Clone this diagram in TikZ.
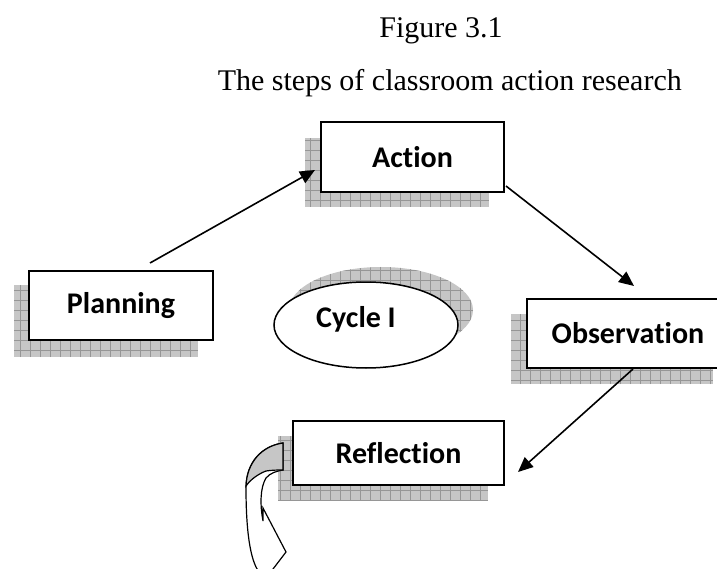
\documentclass[tikz,border=0pt]{standalone}
\usepackage{fontspec}
\setmainfont{Liberation Serif}
\newfontfamily\lblfont[Ligatures=NoCommon]{Carlito}
\usetikzlibrary{arrows.meta,calc,shapes.geometric}
\definecolor{shadefill}{RGB}{198,198,198}
\definecolor{shadegrid}{RGB}{150,150,150}
\newcommand\myshade[4]{%
  \fill[shadefill] (#1,#2) rectangle (#3,#4);
  \begin{scope}
    \clip (#1,#2) rectangle (#3,#4);
    \draw[shadegrid, line width=0.5pt, step=10pt] (#1,#2) grid (#3,#4);
  \end{scope}}
\tikzset{
  stepbox/.style={draw, line width=2pt, fill=white, rectangle, inner sep=0pt,
    font=\lblfont\bfseries\fontsize{30}{36}\selectfont},
  arr/.style={line width=1.6pt, -{Triangle[length=15pt,width=13pt]}},
  ttl/.style={font=\fontsize{30}{36}\selectfont, inner sep=0pt}
}
\begin{document}
\begin{tikzpicture}[x=1pt,y=-1pt]
\useasboundingbox (0,0) rectangle (717,569);
% titles
\node[ttl, anchor=base] (fig) at (441,38) {Figure 3.1};
\node[ttl, anchor=base east] (sub) at (682,91) {The steps of classroom action research};
% shadows
\myshade{305}{138}{489}{207}
\myshade{14}{285}{198}{357}
\myshade{511}{314}{713}{384}
\myshade{278}{436}{488}{500}
% ellipse shadow
\begin{scope}
  \clip (381,310) ellipse [x radius=92, y radius=43];
  \fill[shadefill] (280,260) rectangle (480,360);
  \draw[shadegrid, line width=0.5pt, step=10pt] (280,260) grid (480,360);
\end{scope}
% boxes
\node[stepbox, minimum width=183pt, minimum height=70pt] (act) at (412.5,157) {Action};
\node[stepbox, minimum width=184pt, minimum height=69pt] (plan) at (121,305.5) {Planning};
\node[stepbox, minimum width=202pt, minimum height=69pt] (obs) at (628,333.5) {Observation};
\node[stepbox, minimum width=211pt, minimum height=64pt] (ref) at (398.5,453) {Reflection};
% cycle ellipse
\node[draw, ellipse, line width=1.5pt, fill=white, minimum width=184pt, minimum height=86pt, inner sep=0pt] (cyc) at (366,325) {};
\node[font=\lblfont\bfseries\fontsize{30}{36}\selectfont, inner sep=0pt] (cyct) at (356,319) {Cycle I};
% connectors
\draw[arr] ($(plan.north)+(29,-7)$) -- ($(act.west)+(-5,13)$);
\draw[arr] ($(act.south east)+(1,-7)$) -- ($(obs.north)+(6,-12)$);
\draw[arr] ($(obs.south)+(5,0)$) -- ($(ref.east)+(13,19)$);
% curved arrow
\coordinate (ta) at ($(ref.west)+(-9,-10)$);
\coordinate (tb) at ($(ref.west)+(-9,17)$);
\filldraw[fill=white, line width=1.2pt, line join=miter]
  (ta) .. controls (262,446) and (246,462) .. (246,488)
  .. controls (246,530) and (250,560) .. (259,572)
  -- (257,590) -- (286,552) -- (263,508) -- (263,521)
  .. controls (260,505) and (260,488) .. (266,478)
  .. controls (270,473) and (277,471) .. (tb) -- cycle;
\filldraw[fill=shadefill, line width=1.2pt]
  (ta) .. controls (262,446) and (247,462) .. (246,486)
  .. controls (250,480) and (258,474) .. (266,471)
  .. controls (272,470) and (279,470) .. (tb) -- cycle;
\end{tikzpicture}
\end{document}
